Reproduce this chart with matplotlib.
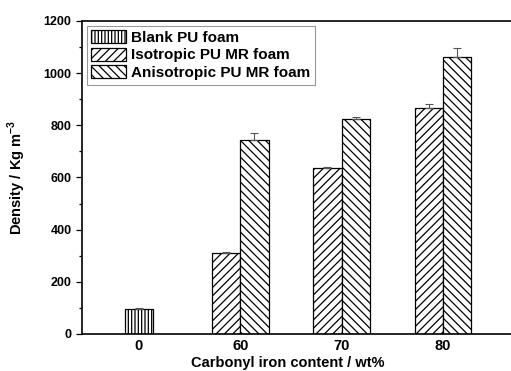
import matplotlib
matplotlib.use('Agg')
import matplotlib.pyplot as plt
import numpy as np

plt.rcParams['font.family'] = ['Liberation Sans', 'DejaVu Sans']
plt.rcParams['font.weight'] = 'bold'
plt.rcParams['hatch.linewidth'] = 0.9
plt.rcParams['mathtext.fontset'] = 'custom'
plt.rcParams['mathtext.bf'] = 'Liberation Sans:bold'
plt.rcParams['mathtext.rm'] = 'Liberation Sans:bold'

categories = ['0', '60', '70', '80']
blank = [95]
blank_err = [3]
iso = [310, 636, 866]
iso_err = [4, 5, 14]
aniso = [745, 824, 1062]
aniso_err = [27, 9, 34]

fig = plt.figure(figsize=(5.11, 3.71), dpi=100)
ax = fig.add_axes([82 / 511, 1 - 334 / 371, 1 - 82 / 511 + 0.01, (334 - 21) / 371])

w = 0.28
x = np.arange(1, len(categories) + 1)
ekw = dict(elinewidth=0.8, capsize=3, capthick=0.8, ecolor='#555555')

ax.bar(x[:1], blank, w, color='white', edgecolor='black', hatch='|||||',
       linewidth=0.9, yerr=[[0], blank_err], error_kw=ekw, label='Blank PU foam')
ax.bar(x[1:] - w / 2, iso, w, color='white', edgecolor='black', hatch='////',
       linewidth=0.9, yerr=[[0] * 3, iso_err], error_kw=ekw, label='Isotropic PU MR foam')
ax.bar(x[1:] + w / 2, aniso, w, color='white', edgecolor='black', hatch='\\\\\\\\',
       linewidth=0.9, yerr=[[0] * 3, aniso_err], error_kw=ekw, label='Anisotropic PU MR foam')

ax.set_xlim(0.44, 4.72)
ax.set_ylim(0, 1200)
ax.set_yticks(np.arange(0, 1201, 200))
ax.set_yticks(np.arange(100, 1200, 200), minor=True)
ax.set_xticks(x)
ax.set_xticklabels(categories, fontsize=10.5)
ax.tick_params(axis='x', length=0, pad=3.5)
ax.tick_params(axis='y', which='major', direction='out', length=4, labelsize=9, width=0.9)
ax.tick_params(axis='y', which='minor', direction='out', length=2.5, width=0.9)
for s in ['left', 'bottom', 'top']:
    ax.spines[s].set_linewidth(1.2)
ax.spines['right'].set_visible(False)

ax.set_xlabel('Carbonyl iron content / wt%', fontsize=10.5, fontweight='bold')
ax.xaxis.set_label_coords(0.475, -0.069)
ax.xaxis.label.set_va('top')
ax.set_ylabel(r'Density / Kg m$^{\mathbf{-3}}$', fontsize=10.5, fontweight='bold')
ax.yaxis.set_label_coords(-0.125, 0.5)

leg = ax.legend(loc='upper left', bbox_to_anchor=(0.0, 1.0), fontsize=11,
                handlelength=2.3, handleheight=0.9, handletextpad=0.3,
                labelspacing=0.2, borderpad=0.3, borderaxespad=0.3,
                fancybox=False, framealpha=1)
leg.get_frame().set_edgecolor('#999999')
leg.get_frame().set_linewidth(0.8)

fig.savefig('out.png', dpi=100)
